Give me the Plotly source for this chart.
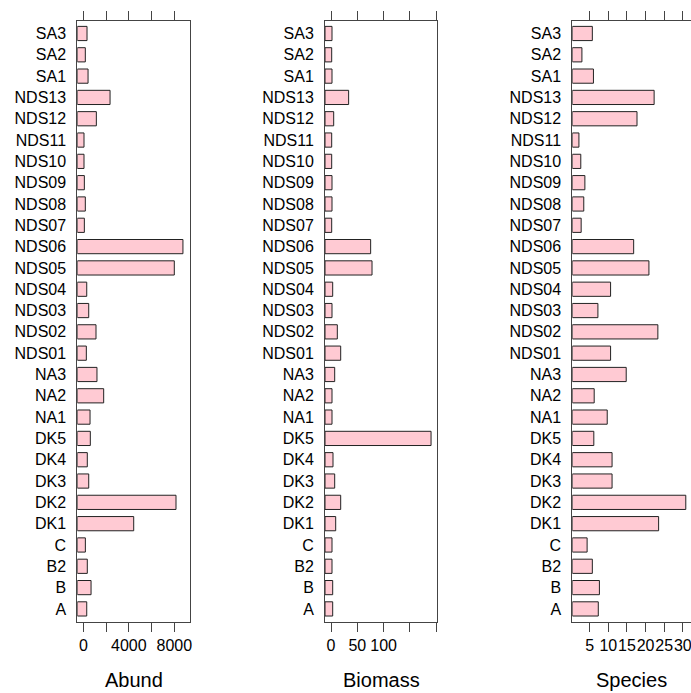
import plotly.graph_objects as go

sites = ["A", "B", "B2", "C", "DK1", "DK2", "DK3", "DK4", "DK5",
         "NA1", "NA2", "NA3",
         "NDS01", "NDS02", "NDS03", "NDS04", "NDS05", "NDS06", "NDS07",
         "NDS08", "NDS09", "NDS10", "NDS11", "NDS12", "NDS13",
         "SA1", "SA2", "SA3"]

abund = [300, 680, 350, 180, 4430, 8150, 475, 350, 615,
         590, 1790, 1200,
         265, 1115, 475, 300, 8000, 8760, 90,
         175, 90, 60, 60, 1145, 2350,
         415, 175, 325]

biomass = [3.2, 3.2, 1.9, 1.9, 8.9, 18.4, 7.0, 3.8, 190.0,
           1.9, 1.9, 7.0,
           18.4, 12.0, 1.9, 3.2, 77.9, 75.3, 1.3,
           1.9, 1.9, 1.3, 1.3, 5.1, 33.5,
           1.9, 1.3, 1.9]

species = [7.3, 7.6, 5.7, 4.3, 23.5, 30.8, 11.0, 11.0, 6.1,
           9.7, 6.2, 14.8,
           10.6, 23.3, 7.2, 10.6, 20.9, 16.8, 2.7,
           3.4, 3.7, 2.6, 2.1, 17.7, 22.3,
           6.0, 2.9, 5.7]

titles = ["Abund", "Biomass", "Species"]
abund_ticks = [0, 2000, 4000, 6000, 8000]
abund_labels = ["0", "", "4000", "", "8000"]
biomass_ticks = [0, 50, 100, 150, 200]
biomass_labels = ["0", "50", "100", "", ""]
species_ticks = [5, 10, 15, 20, 25, 30]
species_labels = ["5", "10", "15", "20", "25", "30"]

W, H = 691, 693
FONT = "Arial, 'Liberation Sans', Helvetica, sans-serif"
FILL = "#FFCAD3"
EDGE = "#222222"
FRAME = "#444444"

panels = [
    dict(vals=abund, rng=[-530, 9380], px=[77.3, 190.0], tv=abund_ticks, tt=abund_labels, right=True),
    dict(vals=biomass, rng=[-11.4, 201.3], px=[325.0, 437.0], tv=biomass_ticks, tt=biomass_labels, right=True),
    dict(vals=species, rng=[0.32, 32.2], px=[572.3, 691.0], tv=species_ticks, tt=species_labels, right=False),
]

ydom = [(H - 621.7) / H, (H - 20.7) / H]

fig = go.Figure()
layout = dict(
    width=W, height=H,
    margin=dict(l=0, r=0, t=0, b=0),
    paper_bgcolor="white", plot_bgcolor="white",
    showlegend=False, bargap=1 / 3,
    font=dict(family=FONT, size=16, color="#000000"),
    annotations=[],
)

for i, p in enumerate(panels):
    sfx = "" if i == 0 else str(i + 1)
    lo = p["rng"][0]
    fig.add_trace(go.Bar(
        y=sites, x=[v - lo for v in p["vals"]], base=lo, orientation="h",
        marker=dict(color=FILL, line=dict(color=EDGE, width=1)),
        xaxis="x" + sfx, yaxis="y" + sfx, name=titles[i],
        customdata=p["vals"], hovertemplate="%{y}: %{customdata}<extra></extra>",
    ))
    dom = [p["px"][0] / W, min(1.0, p["px"][1] / W)]
    layout["xaxis" + sfx] = dict(
        domain=dom, range=p["rng"], anchor="y" + sfx,
        tickmode="array", tickvals=p["tv"], ticktext=p["tt"], tickangle=0,
        ticks="outside", ticklen=9, tickwidth=1, tickcolor=FRAME,
        showline=True, linecolor=FRAME, linewidth=1, mirror="ticks",
        showgrid=False, zeroline=False, automargin=False,
        ticklabeloverflow="allow",
        tickfont=dict(size=16, color="#000000"), fixedrange=True,
    )
    layout["yaxis" + sfx] = dict(
        domain=ydom, anchor="x" + sfx, type="category",
        categoryorder="array", categoryarray=sites, range=[-0.6, 27.6],
        showline=True, linecolor=FRAME, linewidth=1, mirror=p["right"],
        ticks="", showgrid=False, zeroline=False, automargin=False,
        tickfont=dict(size=16, color="#000000"), ticklabelstandoff=7,
        fixedrange=True,
    )
    layout["annotations"].append(dict(
        text=titles[i], xref="paper", yref="paper",
        x=(p["px"][0] + p["px"][1]) / 2 / W,
        y=(H - 680) / H, xanchor="center", yanchor="middle",
        showarrow=False, font=dict(size=20, color="#000000", family=FONT),
    ))

fig.update_layout(**layout)
fig.write_html(
    "out.html",
    config={"displayModeBar": False},
    post_script="document.body.style.margin='0';document.body.style.padding='0';document.body.style.overflow='hidden';",
)
